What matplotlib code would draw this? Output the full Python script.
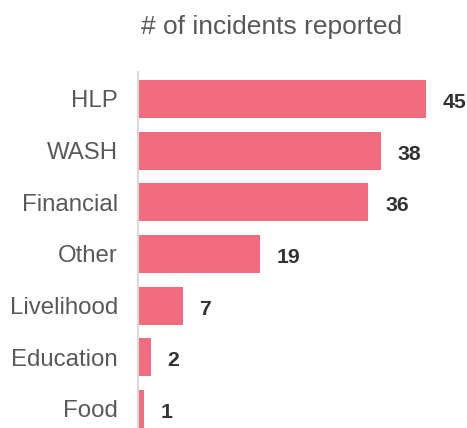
import matplotlib.pyplot as plt

plt.rcParams['font.family'] = ['Liberation Sans', 'DejaVu Sans']

categories = ['HLP', 'WASH', 'Financial', 'Other', 'Livelihood', 'Education', 'Food']
counts = [45, 38, 36, 19, 7, 2, 1]
title = '# of incidents reported'

bar_color = '#F26B7E'

fig = plt.figure(figsize=(4.67, 4.28), dpi=100)
ax = fig.add_axes([138 / 467, 0, 1 - 138 / 467, (428 - 72) / 428])

y = list(range(len(categories)))
ax.barh(y, counts, height=0.735, color=bar_color, zorder=2)
ax.set_xlim(0, 51.4)
ax.set_ylim(6.37, -0.52)

ax.set_yticks(y)
ax.set_yticklabels(categories, fontsize=17.3, color='#595959')
ax.tick_params(axis='y', length=0, pad=14.4)
ax.set_xticks([])

for s in ['top', 'right', 'bottom']:
    ax.spines[s].set_visible(False)
ax.spines['left'].set_color('#d9d9d9')
ax.spines['left'].set_linewidth(1.5)

for yi, v in zip(y, counts):
    ax.text(v + 2.6, yi + 0.07, str(v), va='center', ha='left',
            fontsize=15.3, fontweight='bold', color='#333333')

fig.text(272 / 467, 1 - 27 / 428, title, ha='center', va='center',
         fontsize=19, color='#595959')

fig.savefig('out.png', dpi=100)
